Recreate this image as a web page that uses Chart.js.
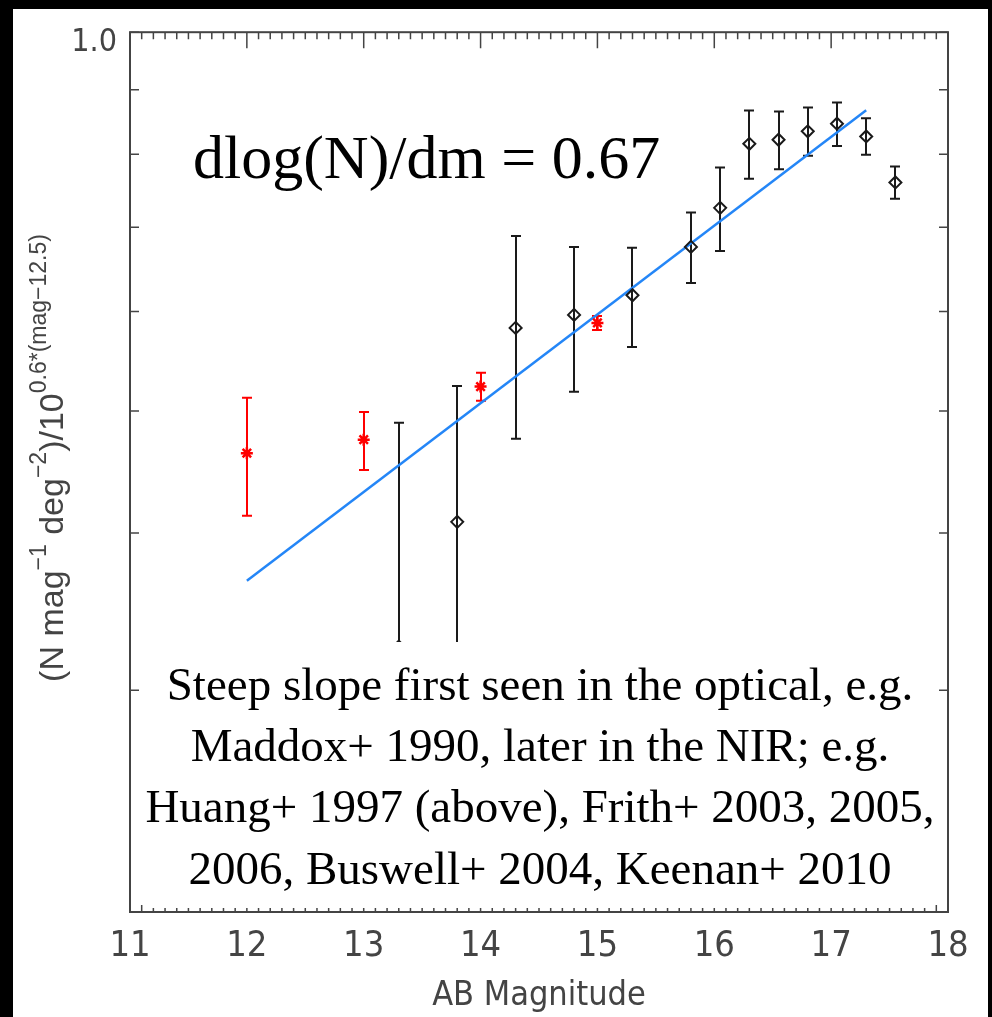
<!DOCTYPE html>
<html>
<head>
<meta charset="utf-8">
<script src="https://cdn.jsdelivr.net/npm/chart.js@4.4.0/dist/chart.umd.min.js"></script>
<style>
html, body { margin: 0; padding: 0; background: #000; }
canvas { display: block; }
</style>
</head>
<body>
<canvas id="counts-canvas" width="992" height="1017"></canvas>
<script>
// red points (asterisks) - AB mag, value, error low / high
var redMag = [12, 13, 14, 15];
var redVal = [0.463, 0.4745, 0.523, 0.5875];
var redLo = [0.4128, 0.449, 0.5096, 0.5801];
var redHi = [0.5124, 0.4991, 0.5364, 0.5951];

// black points (diamonds)
var blackMag = [13.3, 13.8, 14.3, 14.8, 15.3, 15.8, 16.05, 16.3, 16.55, 16.8, 17.05, 17.3, 17.55];
var blackVal = [0.325, 0.4083, 0.5822, 0.5962, 0.618, 0.6752, 0.7252, 0.8153, 0.8214, 0.8342, 0.8459, 0.8264, 0.7597];
var blackLo = [0.2158, 0.3187, 0.4753, 0.5181, 0.5622, 0.6321, 0.6702, 0.7648, 0.7784, 0.7976, 0.812, 0.7991, 0.7375];
var blackHi = [0.4895, 0.5235, 0.6889, 0.6752, 0.6742, 0.7191, 0.7809, 0.8666, 0.8651, 0.8714, 0.8794, 0.8543, 0.7823];

// fitted slope line
var fitMag = [12, 17.3];
var fitVal = [0.3666, 0.8671];

var xTicks = [11, 12, 13, 14, 15, 16, 17, 18];
var yTicks = [0.2, 0.3, 0.4, 0.5, 0.6, 0.7, 0.8, 0.9, 1.0];

var slopeText = "dlog(N)/dm = 0.67";
var noteLines = [
    "Steep slope first seen in the optical, e.g.",
    "Maddox+ 1990, later in the NIR; e.g.",
    "Huang+ 1997 (above), Frith+ 2003, 2005,",
    "2006, Buswell+ 2004, Keenan+ 2010"
];

var narrow = '"Liberation Sans Narrow", "DejaVu Sans Condensed", "Liberation Sans", sans-serif';
var axisInk = "#444";

function toPts(xs, ys) {
    var out = [];
    for (var i = 0; i < xs.length; i++) out.push({x: xs[i], y: ys[i]});
    return out;
}

function drawBars(c, xs, lo, hi, sx, sy, color) {
    c.strokeStyle = color;
    c.lineWidth = 2;
    for (var i = 0; i < xs.length; i++) {
        var px = Math.round(sx.getPixelForValue(xs[i]));
        var p1 = sy.getPixelForValue(lo[i]);
        var p2 = sy.getPixelForValue(hi[i]);
        c.beginPath();
        c.moveTo(px, p1); c.lineTo(px, p2);
        c.moveTo(px - 5, p1); c.lineTo(px + 5, p1);
        c.moveTo(px - 5, p2); c.lineTo(px + 5, p2);
        c.stroke();
    }
}

var backdrop = {
    id: "backdrop",
    beforeDraw: function(chart) {
        var c = chart.ctx;
        c.save();
        c.fillStyle = "#000";
        c.fillRect(0, 0, chart.width, chart.height);
        c.fillStyle = "#fff";
        c.fillRect(13, 9, 975, chart.height - 9);
        c.restore();
    }
};

var errorBars = {
    id: "errorBars",
    beforeDatasetsDraw: function(chart) {
        var c = chart.ctx, sx = chart.scales.x, sy = chart.scales.y;
        c.save();
        drawBars(c, blackMag, blackLo, blackHi, sx, sy, "#1a1a1a");
        drawBars(c, redMag, redLo, redHi, sx, sy, "#ff0000");
        c.restore();
    }
};

var frameAndNotes = {
    id: "frameAndNotes",
    afterDatasetsDraw: function(chart) {
        var c = chart.ctx, a = chart.chartArea;
        var sx = chart.scales.x, sy = chart.scales.y;
        c.save();
        // inward ticks, IDL style
        c.strokeStyle = "#444";
        c.lineWidth = 1.5;
        c.beginPath();
        for (var i = 110; i <= 180; i++) {
            var px = sx.getPixelForValue(i / 10);
            var len = (i % 10 === 0) ? 16 : 7;
            c.moveTo(px, a.top); c.lineTo(px, a.top + len);
            c.moveTo(px, a.bottom); c.lineTo(px, a.bottom - len);
        }
        for (var j = 0; j < yTicks.length; j++) {
            var py = sy.getPixelForValue(yTicks[j]);
            c.moveTo(a.left, py); c.lineTo(a.left + 9, py);
            c.moveTo(a.right, py); c.lineTo(a.right - 9, py);
        }
        c.stroke();
        c.lineWidth = 2;
        c.strokeRect(a.left, a.top, a.right - a.left, a.bottom - a.top);

        // white text box laid over the plot
        c.fillStyle = "#fff";
        c.fillRect(145, 642, 790, 266);
        c.fillStyle = "#000";
        c.font = '47px "Liberation Serif", serif';
        c.textAlign = "center";
        c.textBaseline = "alphabetic";
        var base = [700, 761, 822, 884];
        for (var k = 0; k < noteLines.length; k++) c.fillText(noteLines[k], 540, base[k]);

        c.font = '62px "Liberation Serif", serif';
        c.textAlign = "left";
        c.fillText(slopeText, 193, 178);

        // rotated y title with superscripts
        var parts = [["(N mag", 0], ["\u22121", 1], [" deg", 0], ["\u22122", 1], [")/10", 0], ["0.6*(mag\u221212.5)", 1]];
        var mainF = '34px "Liberation Sans", sans-serif';
        var supF = '23px "Liberation Sans", sans-serif';
        var total = 0;
        for (var p = 0; p < parts.length; p++) {
            c.font = parts[p][1] ? supF : mainF;
            total += c.measureText(parts[p][0]).width;
        }
        c.translate(63, 458);
        c.rotate(-Math.PI / 2);
        c.fillStyle = axisInk;
        var xx = -total / 2;
        for (var q = 0; q < parts.length; q++) {
            c.font = parts[q][1] ? supF : mainF;
            c.fillText(parts[q][0], xx, parts[q][1] ? -17 : 0);
            xx += c.measureText(parts[q][0]).width;
        }
        c.restore();
    }
};

var ctx = document.getElementById("counts-canvas").getContext("2d");

var chart = new Chart(ctx, {
    type: "scatter",
    data: {
        datasets: [
            {
                label: "black",
                data: toPts(blackMag, blackVal),
                pointStyle: "rectRot",
                pointRadius: 6,
                borderColor: "#1a1a1a",
                backgroundColor: "rgba(0,0,0,0)",
                borderWidth: 2
            },
            {
                label: "red",
                data: toPts(redMag, redVal),
                pointStyle: "star",
                pointRadius: 6,
                borderColor: "#ff0000",
                backgroundColor: "#ff0000",
                borderWidth: 2.5
            },
            {
                type: "line",
                label: "fit",
                data: toPts(fitMag, fitVal),
                borderColor: "#2486f7",
                borderWidth: 2.5,
                pointRadius: 0,
                fill: false
            }
        ]
    },
    options: {
        responsive: false,
        animation: false,
        devicePixelRatio: 1,
        layout: { padding: { top: 29, right: 44, left: 0, bottom: 0 } },
        plugins: {
            legend: { display: false },
            tooltip: { enabled: false }
        },
        scales: {
            x: {
                type: "linear",
                min: 11,
                max: 18,
                afterBuildTicks: function(s) {
                    s.ticks = xTicks.map(function(v) { return {value: v}; });
                },
                afterFit: function(s) { s.height = 105; },
                grid: { display: false, drawTicks: false },
                border: { display: false },
                ticks: {
                    autoSkip: false,
                    maxRotation: 0,
                    padding: 13,
                    color: axisInk,
                    font: { family: narrow, size: 36 },
                    callback: function(v) { return String(v); }
                },
                title: {
                    display: true,
                    text: "AB Magnitude",
                    color: axisInk,
                    font: { family: narrow, size: 34, lineHeight: 1 },
                    padding: { top: 0, bottom: 4 }
                }
            },
            y: {
                type: "logarithmic",
                min: 0.2,
                max: 1.0,
                afterBuildTicks: function(s) {
                    s.ticks = yTicks.map(function(v) { return {value: v}; });
                },
                afterFit: function(s) { s.width = 130; },
                grid: { display: false, drawTicks: false },
                border: { display: false },
                ticks: {
                    autoSkip: false,
                    padding: 13,
                    labelOffset: 10,
                    color: axisInk,
                    font: { family: narrow, size: 32 },
                    callback: function(v) { return v === 1 ? "1.0" : ""; }
                }
            }
        }
    },
    plugins: [backdrop, errorBars, frameAndNotes]
});
</script>
</body>
</html>
